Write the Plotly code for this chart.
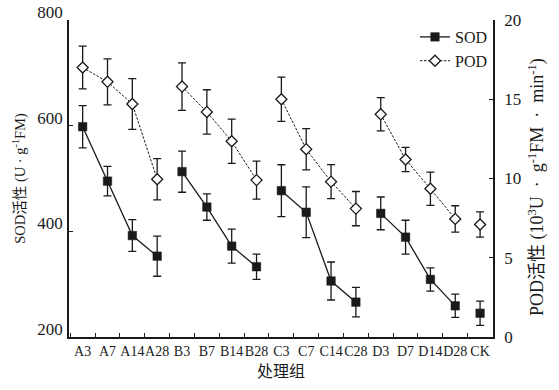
import plotly.graph_objects as go

categories = ["A3", "A7", "A14", "A28", "B3", "B7", "B14", "B28",
              "C3", "C7", "C14", "C28", "D3", "D7", "D14", "D28", "CK"]
groups = ["A", "A", "A", "A", "B", "B", "B", "B",
          "C", "C", "C", "C", "D", "D", "D", "D", "CK"]
sod = [598, 495, 392, 353, 513, 446, 372, 333,
       477, 436, 306, 266, 434, 389, 309, 259, 245]
sod_err = [40, 28, 30, 38, 39, 25, 32, 24,
           49, 48, 36, 28, 31, 32, 22, 22, 23]
pod = [17.0, 16.1, 14.7, 9.95, 15.8, 14.2, 12.35, 9.9,
       15.0, 11.85, 9.8, 8.1, 14.05, 11.2, 9.35, 7.45, 7.1]
pod_err = [1.35, 1.45, 1.6, 1.3, 1.5, 1.4, 1.4, 1.2,
           1.4, 1.3, 1.07, 1.08, 1.05, 0.77, 1.05, 0.83, 0.8]

group_order = ["A", "B", "C", "D", "CK"]
INK = "#1a1a1a"
SERIF = "Liberation Serif, Noto Sans CJK SC, serif"

fig = go.Figure()

for gi, g in enumerate(group_order):
    idx = [i for i, gg in enumerate(groups) if gg == g]
    fig.add_trace(go.Scatter(
        x=[categories[i] for i in idx], y=[pod[i] for i in idx],
        yaxis="y2", mode="lines+markers", name="POD",
        legendgroup="POD", showlegend=(gi == 0), legendrank=2,
        line=dict(color=INK, width=1, dash="2.5px,1.5px"),
        marker=dict(symbol="diamond", size=8.5, color="white",
                    line=dict(color=INK, width=1.3)),
        error_y=dict(type="data", array=[pod_err[i] for i in idx],
                     color=INK, thickness=1.3, width=4),
    ))

for gi, g in enumerate(group_order):
    idx = [i for i, gg in enumerate(groups) if gg == g]
    fig.add_trace(go.Scatter(
        x=[categories[i] for i in idx], y=[sod[i] for i in idx],
        mode="lines+markers", name="SOD",
        legendgroup="SOD", showlegend=(gi == 0), legendrank=1,
        line=dict(color=INK, width=1.3),
        marker=dict(symbol="square", size=8.5, color=INK,
                    line=dict(color=INK, width=0.5)),
        error_y=dict(type="data", array=[sod_err[i] for i in idx],
                     color=INK, thickness=1.3, width=4),
    ))

fig.update_layout(
    width=559, height=390,
    margin=dict(l=69, r=66, t=20, b=53, autoexpand=False),
    paper_bgcolor="white", plot_bgcolor="white",
    font=dict(family=SERIF, size=16, color=INK),
    showlegend=True,
    legend=dict(x=1.0, xanchor="right", y=1.0, yanchor="top",
                bgcolor="rgba(0,0,0,0)", font=dict(size=16, family=SERIF),
                tracegroupgap=0, itemwidth=30),
    xaxis=dict(
        type="category", categoryorder="array", categoryarray=categories,
        range=[-0.55, 16.52], showline=True, linecolor=INK, linewidth=1.5,
        ticks="inside", tickson="boundaries", ticklen=4, tickcolor=INK,
        tickangle=0, tickfont=dict(size=14), showgrid=False, zeroline=False,
        automargin=False,
        title=dict(text="处理组", font=dict(size=16), standoff=8),
    ),
    yaxis=dict(
        range=[200, 800], tickvals=[200, 400, 600, 800],
        showline=True, linecolor=INK, linewidth=1.5,
        ticks="inside", ticklen=4, tickcolor=INK, tickfont=dict(size=17),
        ticklabelshift=-8, ticklabelstandoff=1,
        showgrid=False, zeroline=False, automargin=False,
        title=dict(text="SOD活性 (U · g<sup>-1</sup>FM)", font=dict(size=14.5), standoff=8),
    ),
    yaxis2=dict(
        overlaying="y", side="right", range=[0, 20], tickvals=[0, 5, 10, 15, 20],
        showline=True, linecolor=INK, linewidth=1.5,
        ticks="inside", ticklen=4, tickcolor=INK, tickfont=dict(size=17),
        ticklabelstandoff=6,
        showgrid=False, zeroline=False, automargin=False,
    ),
    annotations=[dict(
        text="POD活性 (10<sup>3</sup>U  ·  g<sup>-1</sup>FM  ·  min<sup>-1</sup>)",
        xref="paper", yref="paper", x=1.0, y=0.473, xshift=44,
        xanchor="center", yanchor="middle", textangle=-90, showarrow=False,
        font=dict(size=18, family=SERIF, color=INK),
    )],
)

fig.write_html("out.html")
